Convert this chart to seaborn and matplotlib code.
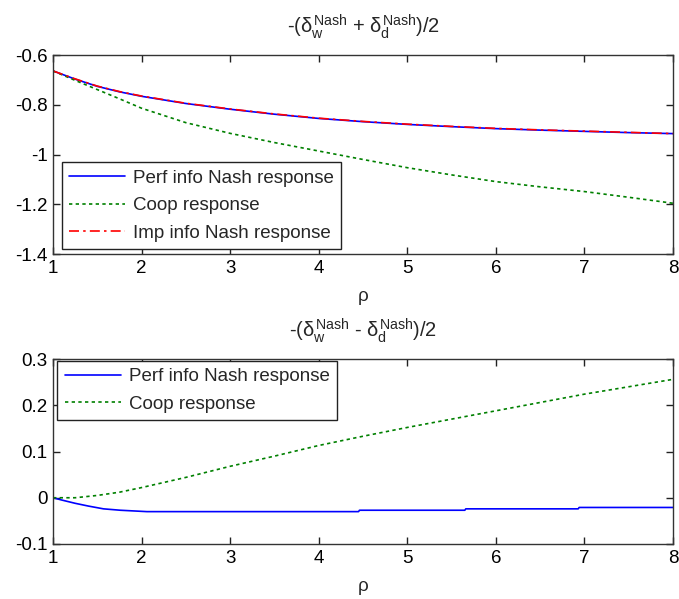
import numpy as np
import pandas as pd
import matplotlib
matplotlib.use("Agg")
import matplotlib.pyplot as plt
import seaborn as sns

# ---------------- data ----------------
rho = [1.0, 1.25, 1.5, 1.75, 2.0, 2.5, 3.0, 3.5, 4.0, 4.5, 5.0, 5.5, 6.0, 6.5, 7.0, 7.5, 8.0]

top_perf = [-0.664, -0.697, -0.726, -0.748, -0.766, -0.795, -0.818, -0.838, -0.855,
            -0.868, -0.879, -0.888, -0.896, -0.902, -0.907, -0.912, -0.916]
top_coop = [-0.664, -0.702, -0.739, -0.776, -0.814, -0.872, -0.915, -0.952, -0.986,
            -1.020, -1.053, -1.082, -1.109, -1.130, -1.149, -1.172, -1.196]
top_imp = [-0.664, -0.696, -0.725, -0.747, -0.765, -0.794, -0.817, -0.837, -0.854,
           -0.867, -0.878, -0.887, -0.895, -0.901, -0.906, -0.911, -0.916]

bot_perf_rho = [1.0, 1.1, 1.25, 1.4, 1.57, 1.76, 2.06, 4.45, 4.46, 5.65, 5.66, 6.93, 6.94, 8.0]
bot_perf = [0.0, -0.005, -0.012, -0.018, -0.024, -0.027, -0.030, -0.030, -0.027,
            -0.027, -0.024, -0.024, -0.021, -0.021]
bot_coop = [0.0, 0.0, 0.005, 0.012, 0.022, 0.044, 0.068, 0.090, 0.113, 0.133,
            0.152, 0.170, 0.188, 0.206, 0.224, 0.240, 0.256]

lab_perf = "Perf info Nash response"
lab_coop = "Coop response"
lab_imp = "Imp info Nash response"

title_top = r"-($\delta_w^{Nash}$ + $\delta_d^{Nash}$)/2"
title_bot = r"-($\delta_w^{Nash}$ - $\delta_d^{Nash}$)/2"
xlabel = "ρ"

# ---------------- style ----------------
sns.set_theme(style="white")
plt.rcParams["font.family"] = ["Liberation Sans", "DejaVu Sans"]
plt.rcParams["mathtext.fontset"] = "custom"
plt.rcParams["mathtext.rm"] = "Liberation Sans"
plt.rcParams["mathtext.it"] = "Liberation Sans"
plt.rcParams["mathtext.bf"] = "Liberation Sans"

palette = {lab_perf: "#0000ff", lab_coop: "#008000", lab_imp: "#ff0000"}
dashes = {lab_perf: "", lab_coop: (2, 2), lab_imp: (6, 2.5, 1.5, 2.5)}

W, H = 679, 599
fig = plt.figure(figsize=(W / 100, H / 100), dpi=100)
ax1 = fig.add_axes([53 / W, 1 - 254 / H, 620 / W, 199 / H])
ax2 = fig.add_axes([53 / W, 1 - 544 / H, 620 / W, 185 / H])

df_top = pd.concat([
    pd.DataFrame({"rho": rho, "value": top_perf, "series": lab_perf}),
    pd.DataFrame({"rho": rho, "value": top_coop, "series": lab_coop}),
    pd.DataFrame({"rho": rho, "value": top_imp, "series": lab_imp}),
])
df_bot = pd.concat([
    pd.DataFrame({"rho": bot_perf_rho, "value": bot_perf, "series": lab_perf}),
    pd.DataFrame({"rho": rho, "value": bot_coop, "series": lab_coop}),
])

sns.lineplot(data=df_top, x="rho", y="value", hue="series", style="series",
             palette=palette, dashes=dashes, estimator=None, lw=1.2, ax=ax1)
sns.lineplot(data=df_bot, x="rho", y="value", hue="series", style="series",
             palette=palette, dashes=dashes, estimator=None, lw=1.2, ax=ax2)

fs = 13.5
for ax, ttl, ylim, yticks, yticklabels in [
    (ax1, title_top, (-1.4, -0.6), [-1.4, -1.2, -1.0, -0.8, -0.6], ["-1.4", "-1.2", "-1", "-0.8", "-0.6"]),
    (ax2, title_bot, (-0.1, 0.3), [-0.1, 0.0, 0.1, 0.2, 0.3], ["-0.1", "0", "0.1", "0.2", "0.3"]),
]:
    ax.set_xlim(1, 8)
    ax.set_ylim(*ylim)
    ax.set_xticks(range(1, 9))
    ax.set_xticklabels([str(i) for i in range(1, 9)], fontsize=fs)
    ax.set_yticks(yticks)
    ax.set_yticklabels(yticklabels, fontsize=fs)
    ax.tick_params(direction="in", length=5, width=1, top=True, right=True,
                   bottom=True, left=True, colors="#222222", labelcolor="black", pad=4)
    for s in ax.spines.values():
        s.set_visible(True)
        s.set_color("#333333")
        s.set_linewidth(1.0)
    ax.set_xlabel(xlabel, fontsize=fs, labelpad=8)
    ax.set_ylabel("")
    ax.set_title(ttl, fontsize=14.5, pad=16)

    leg = ax.get_legend()
    handles = leg.legend_handles
    labels = [t.get_text() for t in leg.get_texts()]
    leg.remove()
    if ax is ax1:
        loc, anchor = "lower left", (0.014, 0.025)
    else:
        loc, anchor = "upper left", (0.007, 0.99)
    newleg = ax.legend(handles, labels, loc=loc, bbox_to_anchor=anchor,
                       fontsize=fs, frameon=True, fancybox=False, framealpha=1,
                       edgecolor="#222222", handlelength=3.0, handletextpad=0.4,
                       labelspacing=0.55, borderpad=0.4, borderaxespad=0.0)
    newleg.get_frame().set_linewidth(1.0)
    for lh in newleg.get_lines():
        lh.set_linewidth(1.2)

fig.savefig("out.png", dpi=100)
